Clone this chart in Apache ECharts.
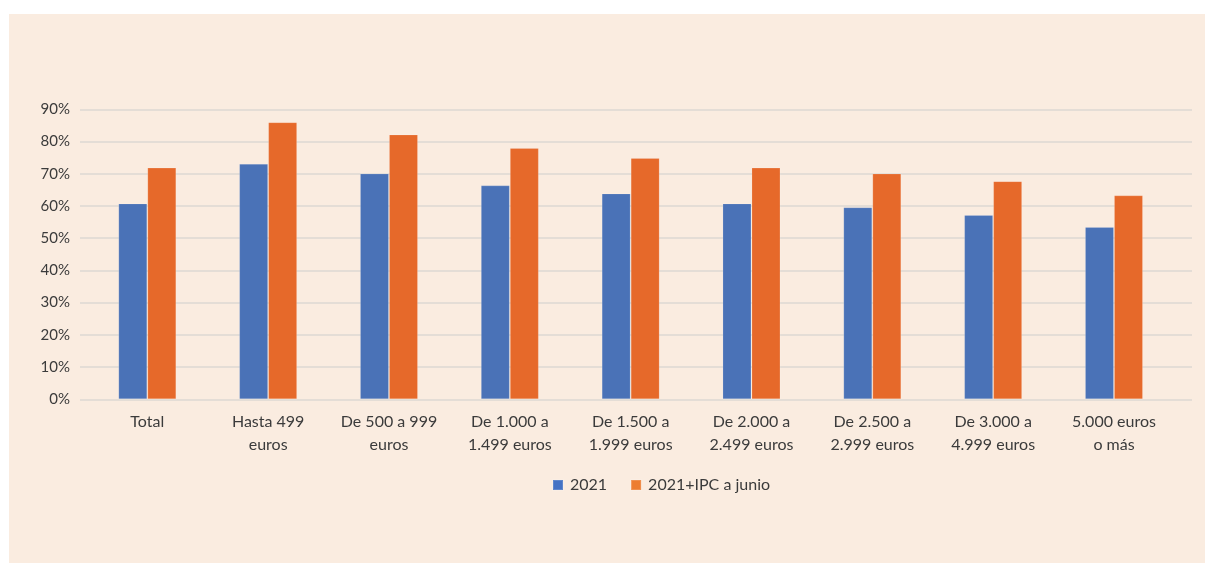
<!DOCTYPE html>
<html>
<head>
<meta charset="utf-8">
<script src="https://cdn.jsdelivr.net/npm/echarts@6/dist/echarts.min.js"></script>
<style>
  html, body { margin: 0; padding: 0; background: #ffffff; }
  #panel { position: absolute; left: 9px; top: 14px; right: 0; bottom: 0; background: #FAECE0; }
  #chart { position: absolute; left: 0; top: 0; width: 1205px; height: 563px; }
</style>
</head>
<body>
<div id="panel"></div>
<div id="chart"></div>
<script>
// Income brackets shown along the horizontal axis
const categories = [
  'Total',
  'Hasta 499\neuros',
  'De 500 a 999\neuros',
  'De 1.000 a\n1.499 euros',
  'De 1.500 a\n1.999 euros',
  'De 2.000 a\n2.499 euros',
  'De 2.500 a\n2.999 euros',
  'De 3.000 a\n4.999 euros',
  '5.000 euros\no más'
];

// Percentages per bracket
const values2021 = [60.8, 73.1, 70.1, 66.4, 63.9, 60.8, 59.6, 57.2, 53.5];
const values2021Ipc = [71.9, 86.0, 82.2, 78.0, 74.9, 71.9, 70.1, 67.7, 63.3];

const seriesNames = ['2021', '2021+IPC a junio'];

// Value axis range and tick step (percent)
const yMin = 0;
const yMax = 90;
const yStep = 10;

const textColor = '#3b3b3b';
const fontFamily = 'Lato, "Noto Sans", sans-serif';
const blue = '#4A72B7';
const orange = '#E6692A';

const chart = echarts.init(document.getElementById('chart'), null, { renderer: 'canvas' });

chart.setOption({
  backgroundColor: 'transparent',
  animation: false,
  textStyle: { fontFamily: fontFamily, color: textColor },
  legend: {
    data: [
      { name: seriesNames[0], itemStyle: { color: '#4472C4' } },
      { name: seriesNames[1], itemStyle: { color: '#ED7D31' } }
    ],
    left: 547,
    top: 472,
    itemWidth: 10,
    itemHeight: 10,
    itemGap: 23,
    icon: 'rect',
    textStyle: { fontFamily: fontFamily, fontSize: 16, color: textColor, padding: [0, 0, 0, 2] }
  },
  grid: [
    // grid for the value axis labels and gridlines
    { left: 80, right: 13, top: 109.3, bottom: 163.7, containLabel: false },
    // grid holding the bars
    { left: 86.9, right: 30.6, top: 109.3, bottom: 163.7, containLabel: false }
  ],
  xAxis: [
    { gridIndex: 0, type: 'value', min: 0, max: 1, show: false },
    {
      gridIndex: 1,
      type: 'category',
      data: categories,
      axisLine: { show: false },
      axisTick: { show: false },
      axisLabel: {
        interval: 0,
        margin: 11,
        fontSize: 16,
        lineHeight: 23,
        color: textColor,
        fontFamily: fontFamily
      }
    }
  ],
  yAxis: [
    {
      gridIndex: 0,
      type: 'value',
      min: yMin,
      max: yMax,
      interval: yStep,
      axisLine: { show: false },
      axisTick: { show: false },
      splitLine: { lineStyle: { color: '#DCD8D3', width: 1.5 } },
      axisLabel: {
        margin: 10,
        fontSize: 15,
        color: textColor,
        fontFamily: fontFamily,
        formatter: function (v) { return v + '%'; }
      }
    },
    {
      gridIndex: 1,
      type: 'value',
      min: yMin,
      max: yMax,
      interval: yStep,
      show: false,
      splitLine: { show: false }
    }
  ],
  series: [
    {
      name: seriesNames[0],
      type: 'bar',
      xAxisIndex: 1,
      yAxisIndex: 1,
      data: values2021,
      barWidth: 29,
      barGap: '0%',
      itemStyle: { color: blue, borderColor: 'rgba(255,255,255,0.15)', borderWidth: 1 }
    },
    {
      name: seriesNames[1],
      type: 'bar',
      xAxisIndex: 1,
      yAxisIndex: 1,
      data: values2021Ipc,
      barWidth: 29,
      barGap: '0%',
      itemStyle: { color: orange, borderColor: 'rgba(255,255,255,0.15)', borderWidth: 1 }
    }
  ]
});
</script>
</body>
</html>
